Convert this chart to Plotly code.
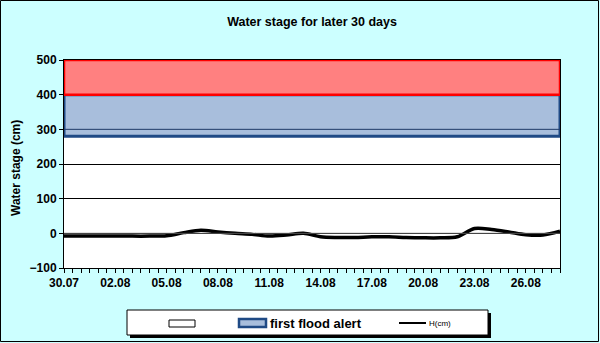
import plotly.graph_objects as go
import pandas as pd

W, H = 600, 343
L, R, T, B = 64, 40, 60, 75
PW, PH = W - L - R, H - T - B

dates = pd.date_range("2023-07-30", periods=30, freq="D")
stage = [-8, -8, -8, -8, -8, -8, -7, 2, 9, 4, 0, -3, -8, -5, 0,
         -10, -12, -12, -10, -10, -12, -13, -13, -10, 14, 11, 4, -4, -5, 6]
band_alert = [280, 400]     # first flood alert
band_danger = [400, 500]    # danger zone
x_range = ["2023-07-30", "2023-08-28"]

def px(x):
    return (x - L) / PW

def py(y):
    return 1 - (y - T) / PH

fig = go.Figure()

# blue band
fig.add_trace(go.Scatter(
    x=[x_range[0], x_range[1], x_range[1], x_range[0], x_range[0]],
    y=[band_alert[0], band_alert[0], band_alert[1], band_alert[1], band_alert[0]],
    fill="toself", fillcolor="#A8BEDC", mode="lines",
    line=dict(color="#1F4A85", width=3), showlegend=False, hoverinfo="skip"))
# gridline at 300 seen through blue band
fig.add_trace(go.Scatter(x=x_range, y=[300, 300], mode="lines",
                         line=dict(color="#1F3A68", width=1), showlegend=False, hoverinfo="skip"))
# red band
fig.add_trace(go.Scatter(
    x=[x_range[0], x_range[1], x_range[1], x_range[0], x_range[0]],
    y=[band_danger[0], band_danger[0], band_danger[1], band_danger[1], band_danger[0]],
    fill="toself", fillcolor="#FF8080", mode="lines",
    line=dict(color="#FF0000", width=2.5), showlegend=False, hoverinfo="skip"))
# water stage line
fig.add_trace(go.Scatter(x=dates, y=stage, mode="lines",
                         line=dict(color="black", width=3.5, shape="spline", smoothing=0.9),
                         showlegend=False))
# zero gridline on top
fig.add_trace(go.Scatter(x=x_range, y=[0, 0], mode="lines",
                         line=dict(color="#555555", width=1), showlegend=False, hoverinfo="skip"))

font_b = dict(family="Liberation Sans, Arial", size=12, color="black", weight="bold")

shapes = [
    # outer border
    dict(type="rect", xref="paper", yref="paper", x0=px(0.5), x1=px(W - 1.5), y0=py(0.5), y1=py(H - 1.5),
         line=dict(color="black", width=1), layer="below"),
    # legend shadow
    dict(type="rect", xref="paper", yref="paper", x0=px(130), x1=px(491), y0=py(313), y1=py(338),
         fillcolor="black", line=dict(width=0)),
    # legend box
    dict(type="rect", xref="paper", yref="paper", x0=px(127), x1=px(488), y0=py(310), y1=py(335),
         fillcolor="white", line=dict(color="black", width=1)),
    # empty rect
    dict(type="rect", xref="paper", yref="paper", x0=px(169), x1=px(195), y0=py(320), y1=py(327),
         fillcolor="white", line=dict(color="black", width=1)),
    # blue patch
    dict(type="rect", xref="paper", yref="paper", x0=px(239), x1=px(266), y0=py(319), y1=py(327),
         fillcolor="#A8BEDC", line=dict(color="#1F4A85", width=2.5)),
    # line sample
    dict(type="line", xref="paper", yref="paper", x0=px(399), x1=px(426), y0=py(323), y1=py(323),
         line=dict(color="black", width=2)),
]

annotations = [
    dict(text="<b>Water stage (cm)</b>", xref="paper", yref="paper", x=px(16), y=py(168),
         textangle=-90, showarrow=False, font=dict(family="Liberation Sans, Arial", size=12, color="black"),
         xanchor="center", yanchor="middle"),
    dict(text="<b>first flood alert</b>", xref="paper", yref="paper", x=px(268), y=py(323),
         showarrow=False, font=dict(family="Liberation Sans, Arial", size=13, color="black"),
         xanchor="left", yanchor="middle"),
    dict(text="H(cm)", xref="paper", yref="paper", x=px(427), y=py(323.5),
         showarrow=False, font=dict(family="Liberation Sans, Arial", size=8, color="black"),
         xanchor="left", yanchor="middle"),
]

fig.update_layout(
    width=W, height=H,
    margin=dict(l=L, r=R, t=T, b=B, pad=0),
    paper_bgcolor="#CCFFFF", plot_bgcolor="white",
    title=dict(text="<b>Water stage for later 30 days</b>", x=0.5, xref="paper",
               y=1 - 22 / H, yref="container", xanchor="center", yanchor="middle",
               font=dict(family="Liberation Sans, Arial", size=12.5, color="black")),
    shapes=shapes, annotations=annotations, showlegend=False,
    xaxis=dict(type="date", range=x_range, tick0="2023-07-30", dtick=3 * 86400000,
               tickformat="%d.%m", ticks="outside", ticklen=4, tickcolor="black",
               minor=dict(dtick=43200000, ticks="outside", ticklen=4, tickcolor="black", showgrid=False),
               showgrid=False, showline=True, linecolor="black", linewidth=1, mirror=True,
               tickfont=font_b, zeroline=False),
    yaxis=dict(range=[-100, 500], dtick=100, ticks="outside", ticklen=4, tickcolor="black",
               showgrid=True, gridcolor="black", gridwidth=1, zeroline=False,
               showline=True, linecolor="black", linewidth=1, mirror=True,
               tickfont=font_b),
)

fig.write_html("out.html")
